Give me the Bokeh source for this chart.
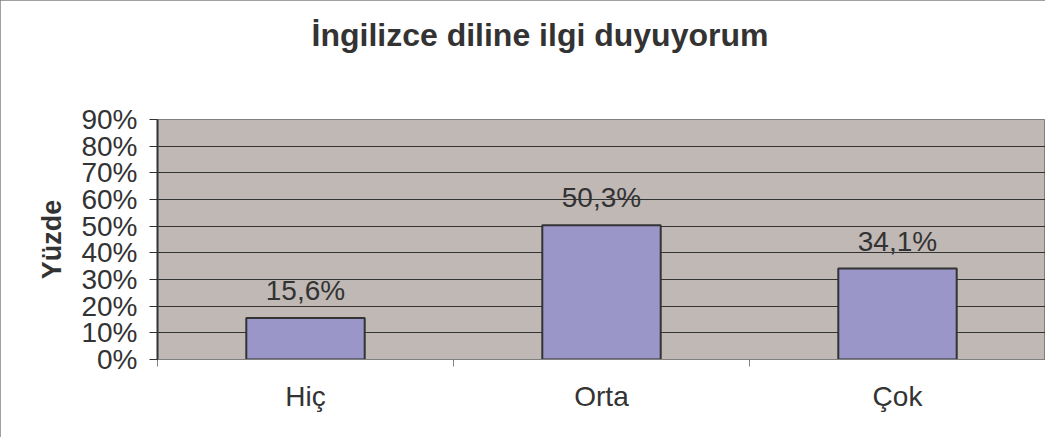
from bokeh.plotting import figure
from bokeh.models import (Range1d, FixedTicker, NumeralTickFormatter, LabelSet,
                          ColumnDataSource, Title)
from bokeh.core.properties import value
from bokeh.embed import file_html
from bokeh.resources import INLINE

# ---- data ----
categories = ["Hiç", "Orta", "Çok"]
values = [0.156, 0.503, 0.341]
value_labels = ["15,6%", "50,3%", "34,1%"]
y_ticks = [0.0, 0.1, 0.2, 0.3, 0.4, 0.5, 0.6, 0.7, 0.8, 0.9]
title_text = "İngilizce diline ilgi duyuyorum"
y_label = "Yüzde"

FONT = "Liberation Sans"
TXT = "#333333"

xs = [i + 0.5 for i in range(len(categories))]
src = ColumnDataSource(dict(x=xs, top=values, lab=value_labels))

p = figure(width=1045, height=437, output_backend="svg", toolbar_location=None,
           x_range=Range1d(0, len(categories)), y_range=Range1d(0, 0.9),
           min_border_left=157, min_border_right=0, min_border_top=119,
           min_border_bottom=78)
p.styles = {"outline": "1px solid #808080", "outline-offset": "-1px"}
p.background_fill_color = "#C0B8B5"
p.border_fill_color = "white"
p.outline_line_color = "#808080"
p.outline_line_width = 1

# spacer between frame and title, then the title itself
spacer = Title(text=" ", text_font_size="1px", standoff=59)
p.add_layout(spacer, "above")
t = Title(text=title_text, text_font=FONT, text_font_size="32px",
          text_font_style="bold", text_color=TXT, align="left", offset=154,
          standoff=10)
p.add_layout(t, "above")

p.vbar(x="x", top="top", width=0.4, source=src, fill_color="#9B96C8",
       line_color="#333333", line_width=2)

labels = LabelSet(x="x", y="top", text="lab", source=src, text_align="center",
                  text_baseline="alphabetic", y_offset=18, text_font=value(FONT),
                  text_font_size=value("28px"), text_color=value(TXT))
p.add_layout(labels)

# y axis
p.yaxis.ticker = FixedTicker(ticks=y_ticks)
p.yaxis.formatter = NumeralTickFormatter(format="0%")
p.yaxis.major_label_text_font = FONT
p.yaxis.major_label_text_font_size = "28px"
p.yaxis.major_label_text_color = TXT
p.yaxis.major_tick_out = 8
p.yaxis.major_tick_in = 0
p.yaxis.minor_tick_out = 0
p.yaxis.minor_tick_in = 0
p.yaxis.axis_line_color = "#333333"
p.yaxis.axis_line_width = 2
p.yaxis.major_tick_line_color = "#333333"
p.yaxis.major_label_standoff = 12
p.yaxis.axis_label = y_label
p.yaxis.axis_label_text_font = FONT
p.yaxis.axis_label_text_font_size = "27px"
p.yaxis.axis_label_text_font_style = "bold"
p.yaxis.axis_label_text_color = TXT
p.yaxis.axis_label_standoff = 11

# x axis
p.xaxis.ticker = FixedTicker(ticks=xs, minor_ticks=list(range(len(categories) + 1)))
p.xaxis.major_label_overrides = {x: c for x, c in zip(xs, categories)}
p.xaxis.major_label_text_font = FONT
p.xaxis.major_label_text_font_size = "28px"
p.xaxis.major_label_text_color = TXT
p.xaxis.major_tick_out = 0
p.xaxis.major_tick_in = 0
p.xaxis.minor_tick_out = 7
p.xaxis.minor_tick_in = 0
p.xaxis.minor_tick_line_color = "#808080"
p.xaxis.axis_line_color = "#808080"
p.xaxis.major_label_standoff = 14

p.xgrid.visible = False
p.ygrid.ticker = FixedTicker(ticks=y_ticks)
p.ygrid.grid_line_color = "#333333"
p.ygrid.grid_line_width = 1

open("out.html", "w").write(file_html(p, INLINE))
